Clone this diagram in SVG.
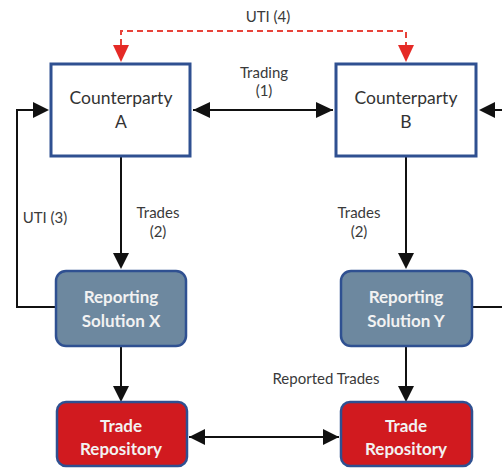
<svg xmlns="http://www.w3.org/2000/svg" width="502" height="469" viewBox="0 0 502 469">
  <style>
    .lbl { font-family: Lato, "Open Sans", "Liberation Sans", sans-serif; font-size: 15px; fill: #3a3a3a; text-anchor: middle; }
    .cp { fill: #ffffff; stroke: #2f5091; stroke-width: 3; }
    .cpt { font-family: Lato, "Open Sans", "Liberation Sans", sans-serif; font-size: 17.5px; fill: #333333; text-anchor: middle; }
    .rs { fill: #6d889f; stroke: #2f5091; stroke-width: 2.5; }
    .tr { fill: #d11a1f; stroke: #2f5091; stroke-width: 2.5; }
    .wt { font-family: Lato, "Open Sans", "Liberation Sans", sans-serif; font-size: 17px; font-weight: bold; fill: #f2f2f2; text-anchor: middle; }
    .ln { fill: none; stroke: #111111; stroke-width: 2; }
    .dash { fill: none; stroke: #e8433a; stroke-width: 2; stroke-dasharray: 6 4; }
  </style>
  <rect width="502" height="469" fill="#ffffff"/>

  <g id="connectors">
    <!-- UTI (4): dashed link between counterparties -->
    <path class="dash" d="M121,45 V31 H406 V45"/>
    <path d="M113,45 L129,45 L121,62 Z" fill="#e52a26"/>
    <path d="M398,45 L414,45 L406,62 Z" fill="#e52a26"/>
    <!-- Trading (1) -->
    <line x1="193" y1="110" x2="333" y2="110" stroke="#111" stroke-width="2"/>
    <path d="M193,110 L210,102 L210,118 Z" fill="#111"/>
    <path d="M333,110 L316,102 L316,118 Z" fill="#111"/>
    <!-- UTI (3) loop back to A -->
    <path class="ln" d="M55,307 H17 V110 H34"/>
    <path d="M49,110 L33,102 L33,118 Z" fill="#111"/>
    <!-- incoming to B from right -->
    <line x1="502" y1="110" x2="492" y2="110" stroke="#111" stroke-width="2"/>
    <path d="M479,110 L495,102 L495,118 Z" fill="#111"/>
    <!-- Y outgoing to right -->
    <line x1="473" y1="307" x2="502" y2="307" stroke="#111" stroke-width="2"/>
    <!-- Trades (2) -->
    <line x1="121" y1="157" x2="121" y2="254" stroke="#111" stroke-width="2"/>
    <path d="M113,253 L129,253 L121,269 Z" fill="#111"/>
    <line x1="406" y1="157" x2="406" y2="254" stroke="#111" stroke-width="2"/>
    <path d="M398,253 L414,253 L406,269 Z" fill="#111"/>
    <!-- Reported trades -->
    <line x1="121" y1="347" x2="121" y2="388" stroke="#111" stroke-width="2"/>
    <path d="M113,386 L129,386 L121,402 Z" fill="#111"/>
    <line x1="406" y1="347" x2="406" y2="388" stroke="#111" stroke-width="2"/>
    <path d="M398,386 L414,386 L406,402 Z" fill="#111"/>
    <!-- TR to TR -->
    <line x1="189" y1="437" x2="339" y2="437" stroke="#111" stroke-width="2"/>
    <path d="M189,437 L205,429 L205,445 Z" fill="#111"/>
    <path d="M339,437 L323,429 L323,445 Z" fill="#111"/>

    <text class="lbl" x="268" y="22">UTI (4)</text>
    <text class="lbl" x="264" y="78">Trading</text>
    <text class="lbl" x="264" y="96">(1)</text>
    <text class="lbl" x="45" y="223">UTI (3)</text>
    <text class="lbl" x="158" y="218">Trades</text>
    <text class="lbl" x="158" y="237">(2)</text>
    <text class="lbl" x="359" y="218">Trades</text>
    <text class="lbl" x="359" y="237">(2)</text>
    <text class="lbl" x="326" y="384">Reported Trades</text>
  </g>

  <g id="counterparty-a">
    <rect class="cp" x="51" y="64" width="139" height="92"/>
    <text class="cpt" x="121" y="104">Counterparty</text>
    <text class="cpt" x="121" y="128">A</text>
  </g>
  <g id="counterparty-b">
    <rect class="cp" x="336" y="64" width="140" height="92"/>
    <text class="cpt" x="406" y="104">Counterparty</text>
    <text class="cpt" x="406" y="128">B</text>
  </g>
  <g id="reporting-x">
    <rect class="rs" x="56" y="271" width="130" height="75" rx="10"/>
    <text class="wt" x="121" y="303">Reporting</text>
    <text class="wt" x="121" y="327">Solution X</text>
  </g>
  <g id="reporting-y">
    <rect class="rs" x="341" y="271" width="131" height="75" rx="10"/>
    <text class="wt" x="406" y="303">Reporting</text>
    <text class="wt" x="406" y="327">Solution Y</text>
  </g>
  <g id="trade-repository-x">
    <rect class="tr" x="57" y="402" width="130" height="64" rx="9"/>
    <text class="wt" x="121" y="432">Trade</text>
    <text class="wt" x="121" y="455">Repository</text>
  </g>
  <g id="trade-repository-y">
    <rect class="tr" x="341" y="402" width="131" height="64" rx="9"/>
    <text class="wt" x="406" y="432">Trade</text>
    <text class="wt" x="406" y="455">Repository</text>
  </g>
</svg>
